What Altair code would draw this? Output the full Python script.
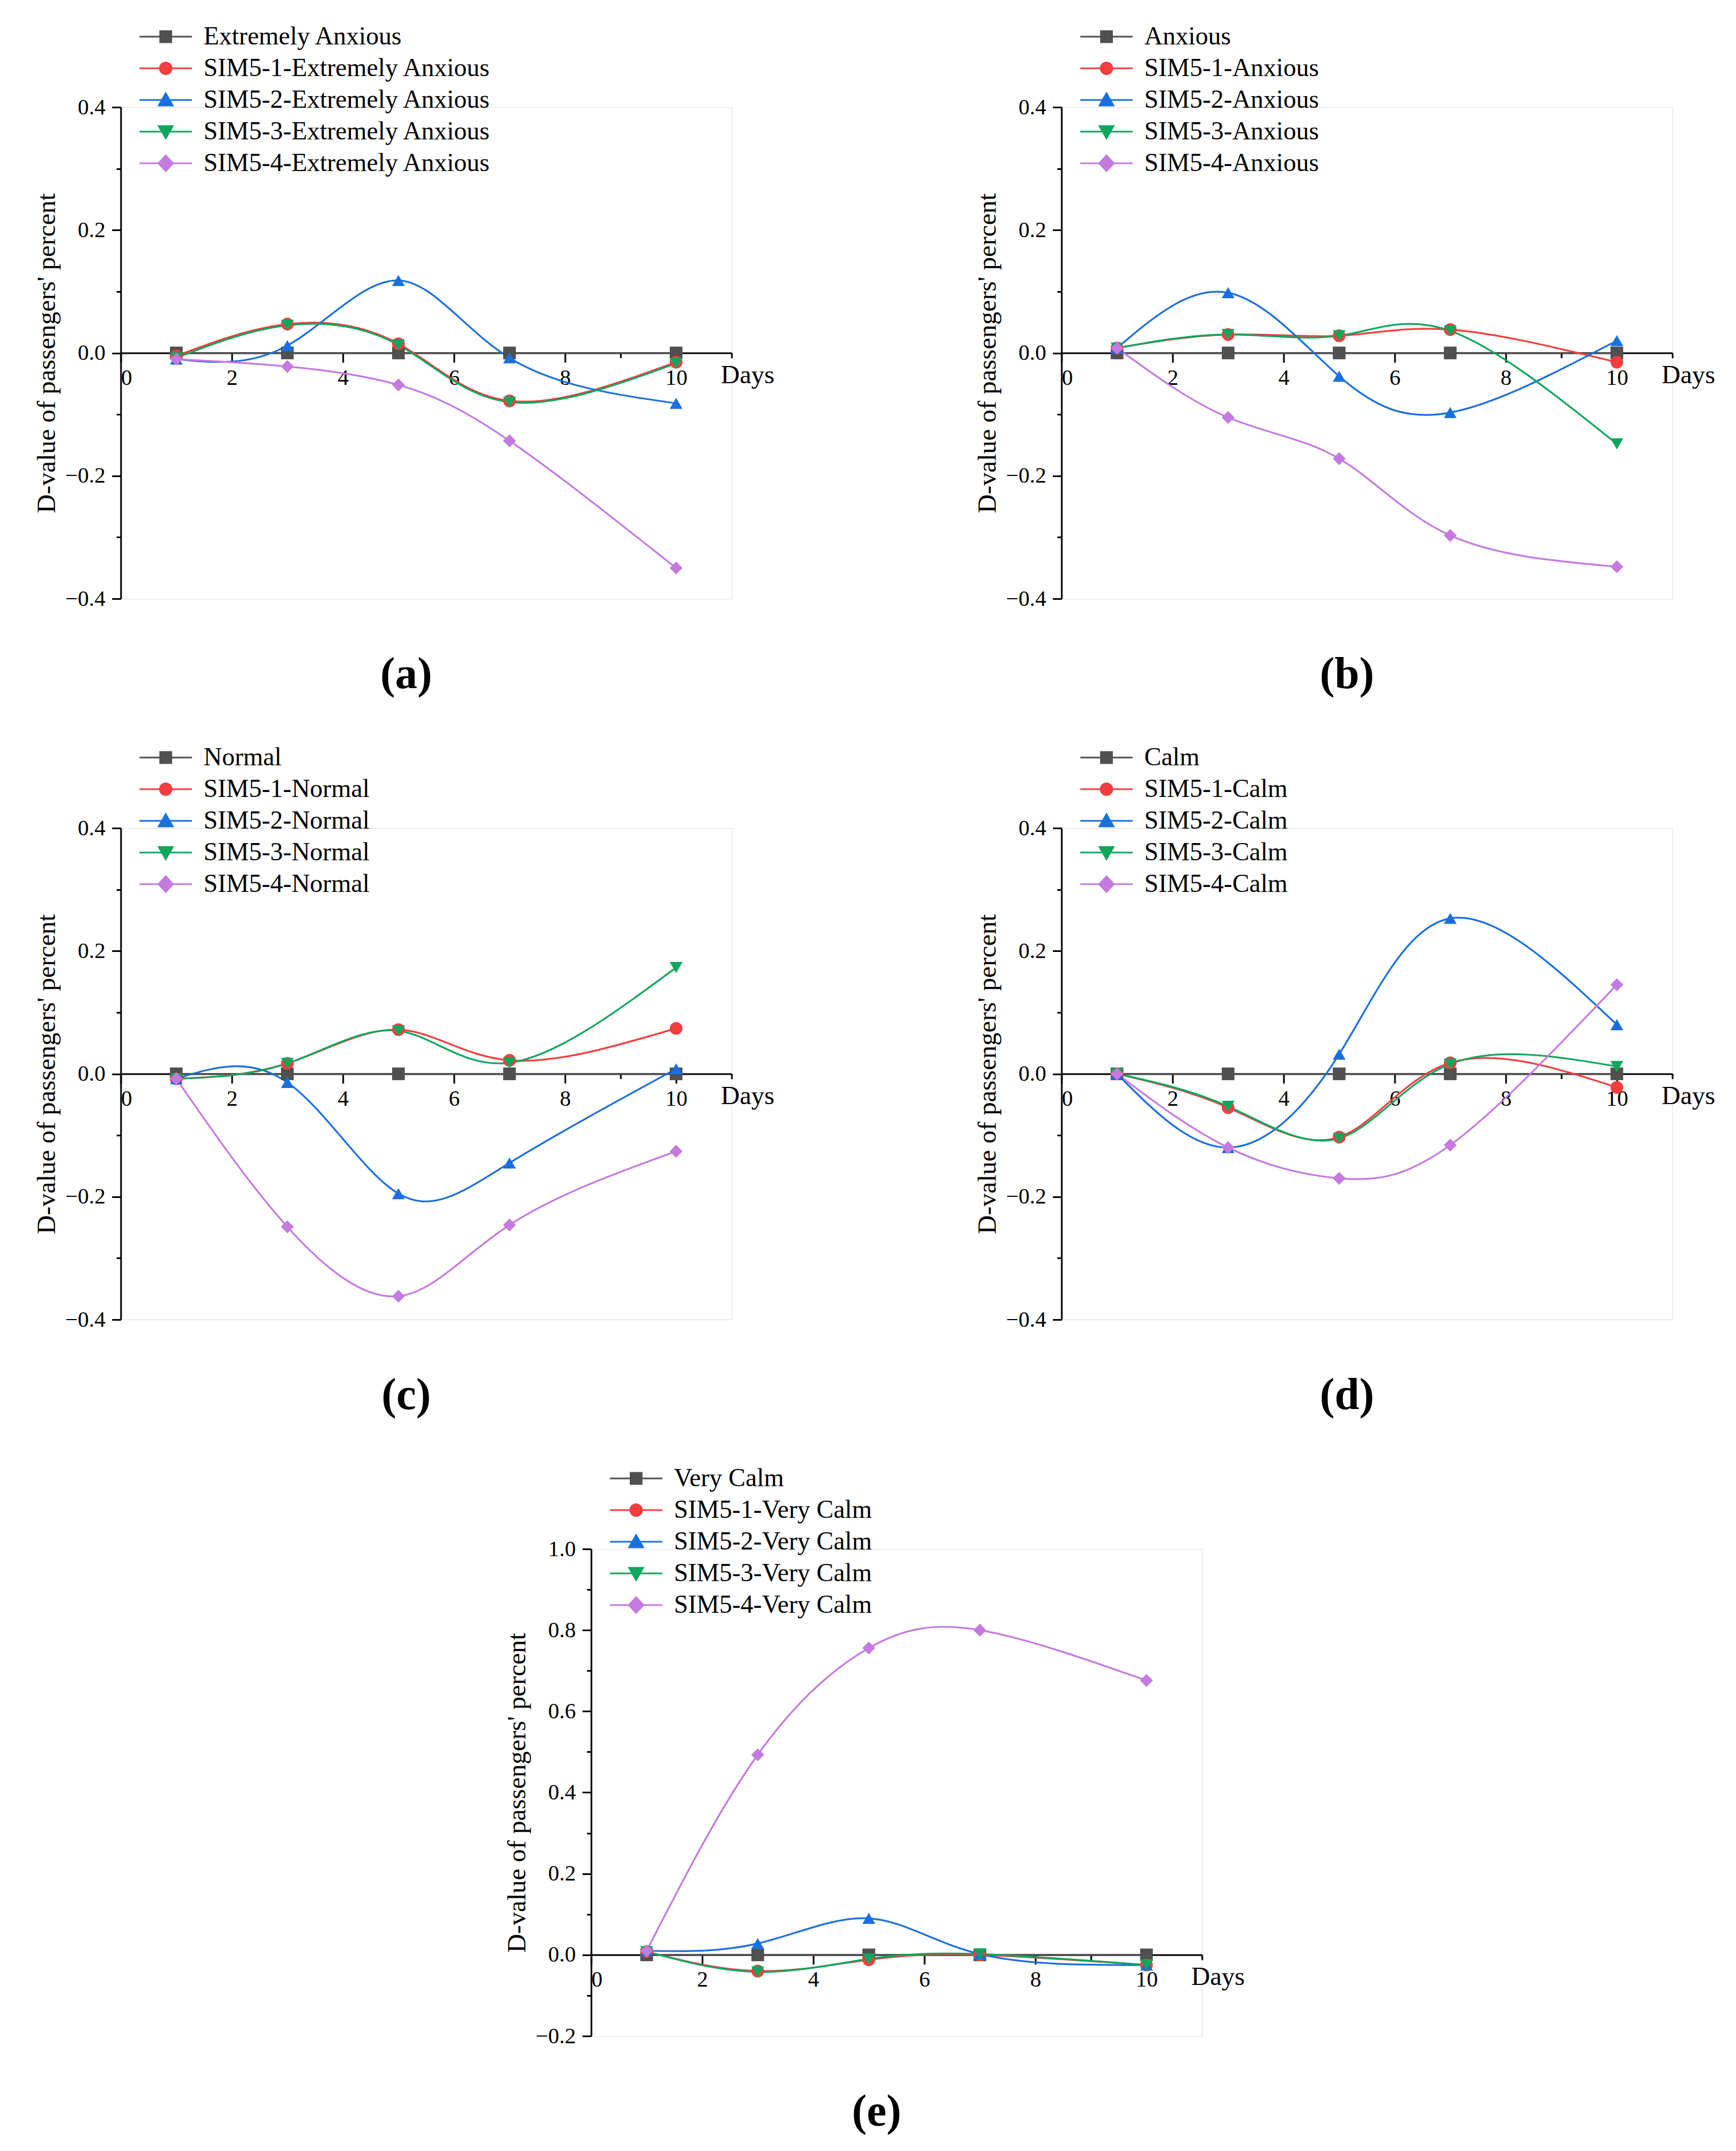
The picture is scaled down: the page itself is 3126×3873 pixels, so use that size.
import altair as alt
import pandas as pd

DAYS = [1, 3, 5, 7, 10]

STATES = ["Extremely Anxious", "Anxious", "Normal", "Calm", "Very Calm"]
TAGS = ["(a)", "(b)", "(c)", "(d)", "(e)"]

# (a) Extremely Anxious
A_BASE = [0.0, 0.0, 0.0, 0.0, 0.0]
A_SIM1 = [-0.005, 0.047, 0.015, -0.078, -0.015]
A_SIM2 = [-0.010, 0.012, 0.118, -0.008, -0.082]
A_SIM3 = [-0.008, 0.045, 0.013, -0.080, -0.017]
A_SIM4 = [-0.010, -0.022, -0.052, -0.143, -0.350]

# (b) Anxious
B_BASE = [0.0, 0.0, 0.0, 0.0, 0.0]
B_SIM1 = [0.008, 0.030, 0.028, 0.038, -0.015]
B_SIM2 = [0.008, 0.098, -0.038, -0.097, 0.020]
B_SIM3 = [0.008, 0.030, 0.028, 0.036, -0.148]
B_SIM4 = [0.008, -0.105, -0.172, -0.297, -0.348]

# (c) Normal
C_BASE = [0.0, 0.0, 0.0, 0.0, 0.0]
C_SIM1 = [-0.008, 0.017, 0.072, 0.022, 0.074]
C_SIM2 = [-0.008, -0.014, -0.195, -0.145, 0.008]
C_SIM3 = [-0.008, 0.017, 0.070, 0.018, 0.173]
C_SIM4 = [-0.008, -0.249, -0.362, -0.246, -0.126]

# (d) Calm
D_BASE = [0.0, 0.0, 0.0, 0.0, 0.0]
D_SIM1 = [0.0, -0.055, -0.103, 0.018, -0.022]
D_SIM2 = [0.0, -0.120, 0.032, 0.253, 0.080]
D_SIM3 = [0.0, -0.053, -0.105, 0.016, 0.012]
D_SIM4 = [0.0, -0.120, -0.170, -0.116, 0.145]

# (e) Very Calm
E_BASE = [0.0, 0.0, 0.0, 0.0, 0.0]
E_SIM1 = [0.008, -0.040, -0.012, 0.000, -0.025]
E_SIM2 = [0.010, 0.028, 0.090, 0.002, -0.025]
E_SIM3 = [0.008, -0.042, -0.010, 0.002, -0.025]
E_SIM4 = [0.010, 0.493, 0.756, 0.800, 0.676]

Y_DOMAIN_STD = [-0.4, 0.4]
Y_TICKS_STD = [-0.4, -0.3, -0.2, -0.1, 0.0, 0.1, 0.2, 0.3, 0.4]
Y_DOMAIN_E = [-0.2, 1.0]
Y_TICKS_E = [-0.2, -0.1, 0.0, 0.1, 0.2, 0.3, 0.4, 0.5, 0.6, 0.7, 0.8, 0.9, 1.0]
X_DOMAIN = [0, 11]
X_TICKS = [0, 1, 2, 3, 4, 5, 6, 7, 8, 9, 10, 11]

COLORS = ["#505050", "#F23E3E", "#1A6FDF", "#10A65E", "#C47ADF"]
PLOT_SHAPES = ["square", "circle", "triangle-up", "triangle-down", "diamond"]
PLOT_SIZES = [520, 540, 640, 640, 820]
LEGEND_SHAPES = [
    "M-4.5,0H4.5M-0.95,-0.95H0.95V0.95H-0.95Z",
    "M-4.5,0H4.5M1,0A1,1,0,1,1,-1,0A1,1,0,1,1,1,0Z",
    "M-4.5,0H4.5M0,-1.15L1.2,0.95H-1.2Z",
    "M-4.5,0H4.5M0,1.15L1.2,-0.95H-1.2Z",
    "M-4.5,0H4.5M0,-1.35L1.25,0L0,1.35L-1.25,0Z",
]

FONT = "Liberation Serif"
W = 1100


def panel(state, tag, series, ydomain, yticks, H):
    names = [state] + [f"SIM5-{i}-{state}" for i in range(1, 5)]
    rows = []
    for name, vals in zip(names, series):
        for d, v in zip(DAYS, vals):
            rows.append({"day": d, "value": v, "series": name, "key": name})
    df = pd.DataFrame(rows)

    ymin, ymax = ydomain
    xoff = -H * (0 - ymin) / (ymax - ymin)

    x_enc = alt.X(
        "day:Q",
        scale=alt.Scale(domain=X_DOMAIN, nice=False, zero=False),
        axis=alt.Axis(
            values=X_TICKS,
            format="d",
            labelExpr="datum.value % 2 === 0 && datum.value <= 10 ? datum.label : ''",
            tickSize={"condition": {"test": "datum.value % 2 === 0", "value": 17}, "value": 9},
            offset=xoff,
            grid=False,
            domainColor="black",
            domainWidth=3,
            tickColor="black",
            tickWidth=3,
            labelFont=FONT,
            labelFontSize=40,
            labelColor="black",
            labelPadding=8,
            title="Days",
            titleFont=FONT,
            titleFontSize=47,
            titleFontWeight="normal",
            titleColor="black",
            titleX=W - 20,
            titleY=40,
            titleAlign="left",
            titleBaseline="middle",
        ),
    )
    y_enc = alt.Y(
        "value:Q",
        scale=alt.Scale(domain=ydomain, nice=False, zero=False),
        axis=alt.Axis(
            values=yticks,
            format=".1f",
            labelExpr="round(datum.value * 10) % 2 === 0 ? datum.label : ''",
            tickSize={"condition": {"test": "round(datum.value * 10) % 2 === 0", "value": 16}, "value": 8},
            grid=False,
            domainColor="black",
            domainWidth=3,
            tickColor="black",
            tickWidth=3,
            labelFont=FONT,
            labelFontSize=40,
            labelColor="black",
            labelPadding=12,
            title="D-value of passengers' percent",
            titleFont=FONT,
            titleFontSize=47,
            titleFontWeight="normal",
            titleColor="black",
            titlePadding=8,
        ),
    )

    cscale = alt.Scale(domain=names, range=COLORS)
    lines = alt.Chart(df).mark_line(strokeWidth=3.2, interpolate="natural").encode(
        x=x_enc, y=y_enc, color=alt.Color("series:N", scale=cscale, legend=None)
    )
    points = alt.Chart(df).mark_point(filled=True, opacity=1).encode(
        x=x_enc,
        y=y_enc,
        color=alt.Color("series:N", scale=cscale, legend=None),
        shape=alt.Shape("series:N", scale=alt.Scale(domain=names, range=PLOT_SHAPES), legend=None),
        size=alt.Size("series:N", scale=alt.Scale(domain=names, range=PLOT_SIZES), legend=None),
    )
    leg = alt.Legend(
        title=None,
        orient="none",
        legendX=58,
        legendY=-150,
        symbolSize=440,
        symbolStrokeWidth=3,
        labelFont=FONT,
        labelFontSize=46,
        labelColor="black",
        labelOffset=45,
        labelLimit=0,
        rowPadding=11,
        padding=0,
    )
    legend_layer = (
        alt.Chart(df)
        .transform_filter("false")
        .mark_point(filled=True, opacity=1, strokeWidth=3)
        .encode(
            x=x_enc,
            y=y_enc,
            color=alt.Color("key:N", scale=cscale, legend=leg),
            stroke=alt.Stroke("key:N", scale=cscale, legend=leg),
            shape=alt.Shape("key:N", scale=alt.Scale(domain=names, range=LEGEND_SHAPES), legend=leg),
        )
    )
    return (
        alt.layer(lines, points, legend_layer)
        .resolve_scale(color="independent", shape="independent", stroke="independent", size="independent")
        .properties(
            width=W,
            height=H,
            title=alt.TitleParams(
                tag,
                orient="bottom",
                anchor="middle",
                font=FONT,
                fontSize=80,
                fontWeight="bold",
                color="black",
                offset=78,
                dx=-36,
            ),
        )
    )


pa = panel(STATES[0], TAGS[0], [A_BASE, A_SIM1, A_SIM2, A_SIM3, A_SIM4], Y_DOMAIN_STD, Y_TICKS_STD, 885)
pb = panel(STATES[1], TAGS[1], [B_BASE, B_SIM1, B_SIM2, B_SIM3, B_SIM4], Y_DOMAIN_STD, Y_TICKS_STD, 885)
pc = panel(STATES[2], TAGS[2], [C_BASE, C_SIM1, C_SIM2, C_SIM3, C_SIM4], Y_DOMAIN_STD, Y_TICKS_STD, 885)
pd_ = panel(STATES[3], TAGS[3], [D_BASE, D_SIM1, D_SIM2, D_SIM3, D_SIM4], Y_DOMAIN_STD, Y_TICKS_STD, 885)
pe = panel(STATES[4], TAGS[4], [E_BASE, E_SIM1, E_SIM2, E_SIM3, E_SIM4], Y_DOMAIN_E, Y_TICKS_E, 877)

row1 = alt.hconcat(pa, pb, spacing=594, bounds="flush")
row2 = alt.hconcat(pc, pd_, spacing=594, bounds="flush")

chart = (
    alt.vconcat(row1, row2, pe, spacing=84, center=True)
    .properties(padding={"left": 52, "top": 34, "right": 10, "bottom": 10})
    .configure_view(stroke="transparent")
    .configure(background="white")
)

chart.save("out.html", embed_options={"renderer": "svg", "actions": False})
